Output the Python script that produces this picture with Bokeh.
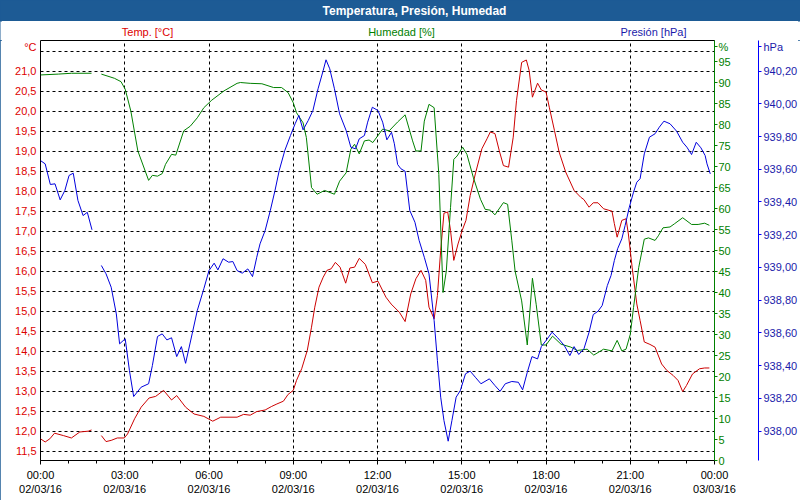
from bokeh.plotting import figure
from bokeh.layouts import column
from bokeh.models import Range1d, LinearAxis, FixedTicker
from bokeh.core.properties import value
from bokeh.embed import file_html
from bokeh.resources import INLINE

NaN = float("nan")

# ---- data (minutes after 00:00 on 02/03/16) ----
temp_min = [0, 10, 20, 30, 49, 66, 84, 102, 109, 120, 130, 140, 151, 164, 179, 186, 201, 215, 232, 246,
            263, 280, 291, 310, 328, 349, 368, 385, 420, 434, 448, 462, 480, 494, 505, 519, 529, 540,
            547, 558, 570, 579, 586, 595, 604, 612, 621, 630, 640, 652, 661, 671, 681, 694, 709, 721,
            738, 749, 767, 779, 791, 802, 813, 823, 830, 841, 848, 855, 862, 870, 876, 883, 892, 901,
            909, 918, 929, 943, 954, 961, 971, 980, 989, 1000, 1010, 1017, 1028, 1038, 1044, 1051,
            1062, 1070, 1080, 1087, 1098, 1108, 1122, 1140, 1154, 1161, 1172, 1181, 1191, 1203, 1221,
            1226, 1232, 1242, 1251, 1256, 1264, 1274, 1281, 1290, 1302, 1313, 1327, 1338, 1352, 1362,
            1372, 1380, 1393, 1408, 1419, 1429]
temp_val = [11.81, 11.73, 11.81, 11.95, 11.89, 11.83, 11.98, 12.00, 12.03, NaN, 11.89, 11.74, 11.77,
            11.83, 11.83, 11.93, 12.31, 12.60, 12.83, 12.87, 13.02, 12.78, 12.89, 12.60, 12.43, 12.37,
            12.25, 12.35, 12.35, 12.42, 12.40, 12.49, 12.53, 12.62, 12.68, 12.75, 12.92, 13.02, 13.27,
            13.56, 14.02, 14.60, 15.10, 15.60, 15.85, 16.02, 16.06, 16.22, 16.10, 15.70, 16.08, 16.10,
            16.32, 16.17, 15.71, 15.75, 15.35, 15.18, 14.97, 14.74, 15.43, 15.81, 16.02, 15.77, 15.10,
            14.81, 15.39, 16.52, 17.45, 17.48, 17.02, 16.27, 16.68, 17.02, 17.27, 17.89, 18.43, 19.06,
            19.31, 19.48, 19.44, 19.02, 18.64, 18.60, 19.35, 20.27, 21.22, 21.28, 21.02, 20.35, 20.70,
            20.53, 20.48, 20.10, 19.52, 18.98, 18.48, 18.02, 17.85, 17.79, 17.60, 17.71, 17.71, 17.56,
            17.50, 17.19, 16.85, 17.27, 17.31, 16.93, 16.10, 15.18, 14.77, 14.23, 14.17, 14.10, 13.68,
            13.52, 13.39, 13.27, 12.99, 13.14, 13.43, 13.56, 13.58, 13.58]

hum_min = [0, 38, 66, 109, 120, 130, 158, 172, 181, 193, 208, 231, 239, 250, 260, 267, 280, 289, 306,
           320, 335, 349, 366, 392, 420, 427, 448, 473, 498, 515, 529, 540, 547, 561, 568, 579, 591,
           607, 628, 639, 653, 663, 671, 681, 692, 702, 710, 731, 745, 763, 779, 795, 802, 813, 820,
           830, 841, 851, 860, 867, 876, 883, 890, 902, 911, 925, 940, 950, 961, 971, 989, 998, 1007,
           1014, 1028, 1040, 1051, 1059, 1070, 1080, 1094, 1112, 1133, 1147, 1168, 1182, 1203, 1221,
           1232, 1242, 1251, 1260, 1267, 1278, 1290, 1299, 1313, 1320, 1330, 1345, 1355, 1372, 1391,
           1405, 1419, 1429]
hum_val = [91.8, 92.0, 92.2, 92.2, NaN, 92.0, 91.0, 90.2, 88.4, 83.2, 73.7, 66.7, 67.9, 67.7, 68.3,
           70.5, 72.9, 72.7, 78.5, 79.6, 81.6, 84.0, 85.8, 88.0, 89.8, 90.0, 89.8, 89.7, 88.8, 88.8,
           87.6, 85.2, 82.8, 80.4, 76.9, 65.0, 63.4, 64.3, 63.4, 66.5, 68.5, 74.1, 75.3, 73.0, 76.1,
           76.3, 75.7, 78.9, 78.5, 80.6, 82.3, 76.1, 73.7, 73.7, 80.8, 84.8, 84.0, 68.1, 40.0, 45.1,
           60.2, 71.7, 72.5, 74.6, 72.9, 67.3, 62.2, 59.8, 59.6, 58.5, 61.4, 61.0, 52.3, 45.1, 38.0,
           27.5, 43.4, 37.2, 27.5, 27.5, 29.6, 27.7, 27.0, 26.2, 26.5, 25.1, 26.5, 26.1, 28.6, 26.1,
           26.5, 30.0, 36.4, 45.9, 52.7, 53.0, 52.4, 53.5, 55.4, 55.6, 56.4, 57.8, 56.2, 56.2, 56.5,
           56.0]

pres_min = [0, 10, 21, 31, 42, 52, 61, 70, 80, 91, 100, 110, 120, 130, 140, 151, 162, 169, 181, 190,
            199, 215, 231, 239, 250, 260, 270, 280, 291, 301, 310, 324, 335, 349, 360, 371, 379, 390,
            402, 411, 420, 431, 443, 453, 462, 469, 480, 491, 501, 510, 522, 534, 544, 552, 561, 572,
            582, 593, 604, 610, 618, 628, 639, 653, 663, 673, 681, 692, 699, 709, 721, 731, 740, 750,
            756, 763, 770, 779, 789, 800, 809, 820, 830, 841, 848, 855, 862, 871, 879, 888, 897, 908,
            918, 929, 941, 959, 971, 982, 993, 1007, 1021, 1030, 1040, 1050, 1062, 1070, 1080, 1093,
            1105, 1119, 1131, 1140, 1150, 1161, 1172, 1181, 1191, 1200, 1211, 1219, 1226, 1233, 1242,
            1249, 1258, 1267, 1274, 1281, 1290, 1301, 1313, 1322, 1332, 1345, 1359, 1372, 1381, 1391,
            1401, 1411, 1420, 1424, 1431]
pres_val = [939.653, 939.633, 939.507, 939.511, 939.413, 939.470, 939.562, 939.576, 939.409, 939.317,
            939.337, 939.230, NaN, 939.012, 938.961, 938.879, 938.716, 938.533, 938.564, 938.370,
            938.211, 938.268, 938.289, 938.400, 938.578, 938.594, 938.557, 938.570, 938.455, 938.516,
            938.414, 938.594, 938.737, 938.870, 938.981, 939.026, 938.985, 939.053, 939.032, 939.036,
            938.981, 938.965, 938.991, 938.944, 939.062, 939.144, 939.226, 939.348, 939.470, 939.592,
            939.715, 939.806, 939.878, 939.929, 939.841, 939.898, 939.959, 940.092, 940.204, 940.269,
            940.214, 940.092, 939.939, 939.837, 939.735, 939.725, 939.786, 939.806, 939.888, 939.979,
            939.959, 939.888, 939.780, 939.826, 939.756, 939.629, 939.603, 939.588, 939.348, 939.276,
            939.164, 939.062, 938.961, 938.675, 938.431, 938.207, 938.064, 937.938, 938.064, 938.207,
            938.248, 938.350, 938.366, 938.329, 938.289, 938.319, 938.278, 938.243, 938.289, 938.303,
            938.298, 938.252, 938.359, 938.455, 938.441, 938.516, 938.553, 938.604, 938.570, 938.523,
            938.461, 938.516, 938.468, 938.502, 938.604, 938.712, 938.732, 938.767, 938.889, 938.951,
            939.042, 939.114, 939.175, 939.256, 939.368, 939.460, 939.521, 939.542, 939.694, 939.796,
            939.817, 939.857, 939.894, 939.878, 939.833, 939.765, 939.735, 939.690, 939.765, 939.731,
            939.684, 939.633, 939.572]

x_ticks = [0, 180, 360, 540, 720, 900, 1080, 1260, 1440]
x_tick_labels = ["00:00\n02/03/16", "03:00\n02/03/16", "06:00\n02/03/16", "09:00\n02/03/16",
                 "12:00\n02/03/16", "15:00\n02/03/16", "18:00\n02/03/16", "21:00\n02/03/16",
                 "00:00\n03/03/16"]
temp_ticks = [11.5, 12.0, 12.5, 13.0, 13.5, 14.0, 14.5, 15.0, 15.5, 16.0, 16.5, 17.0, 17.5, 18.0,
              18.5, 19.0, 19.5, 20.0, 20.5, 21.0]
temp_tick_labels = ["11,5", "12,0", "12,5", "13,0", "13,5", "14,0", "14,5", "15,0", "15,5", "16,0",
                    "16,5", "17,0", "17,5", "18,0", "18,5", "19,0", "19,5", "20,0", "20,5", "21,0"]
grid_temp_ticks = temp_ticks + [21.5]
hum_ticks = [0, 5, 10, 15, 20, 25, 30, 35, 40, 45, 50, 55, 60, 65, 70, 75, 80, 85, 90, 95]
pres_ticks = [938.0, 938.2, 938.4, 938.6, 938.8, 939.0, 939.2, 939.4, 939.6, 939.8, 940.0, 940.2]
pres_tick_labels = ["938,00", "938,20", "938,40", "938,60", "938,80", "939,00", "939,20", "939,40",
                    "939,60", "939,80", "940,00", "940,20"]

title_text = "Temperatura, Presión, Humedad"
series_names = ["Temp. [°C]", "Humedad [%]", "Presión [hPa]"]
unit_names = ["°C", "%", "hPa"]
# axis values at which the unit names sit (top of each axis)
unit_at = [21.62, 98.5, 940.35]

# ---- styles ----
FONT = "Liberation Sans"
BAR = "#1d5b95"
RED_LINE = "#cc0000"
RED_TEXT = "#dd0000"
GREEN = "#008000"
BLUE_LINE = "#0000dd"
BLUE_TEXT = "#1a1aaa"


def strip_figure(h, fill):
    f = figure(width=800, height=h, output_backend="svg", toolbar_location=None,
               x_range=Range1d(0, 800), y_range=Range1d(h, 0),
               x_axis_location=None, y_axis_location=None,
               min_border=0, min_border_left=0, min_border_right=0,
               min_border_top=0, min_border_bottom=0,
               background_fill_color=fill, border_fill_color=fill,
               outline_line_color=None)
    if "frame_align" in f.properties():
        f.frame_align = False
    f.xgrid.visible = False
    f.ygrid.visible = False
    return f


# ---------------- title bar ----------------
bar = strip_figure(21, BAR)
bar.text(x=[414], y=[10.5], text=[title_text], text_color="white",
         text_font=value(FONT), text_font_style="bold", text_font_size="12px",
         text_align="center", text_baseline="middle")

# ---------------- series names row ----------------
names = strip_figure(19, "white")
names.text(x=[147, 401, 653], y=[10, 10, 10], text=series_names,
           text_color=[RED_TEXT, GREEN, BLUE_TEXT],
           text_font=value(FONT), text_font_size="11px",
           text_align="center", text_baseline="middle")

# ---------------- main chart ----------------
p = figure(width=800, height=460, output_backend="svg", toolbar_location=None,
           x_range=Range1d(0, 1440), y_range=Range1d(11.267, 21.767),
           min_border_left=40, min_border_right=80, min_border_top=0, min_border_bottom=40,
           background_fill_color="white", border_fill_color="white",
           outline_line_color="black", outline_line_width=1)
if "frame_align" in p.properties():
    p.frame_align = False
p.extra_y_ranges = {"hum": Range1d(0, 100), "pres": Range1d(937.82, 940.387)}

# grids
p.xgrid.ticker = FixedTicker(ticks=x_ticks[1:-1])
p.ygrid.ticker = FixedTicker(ticks=grid_temp_ticks)
for g in (p.xgrid, p.ygrid):
    g.grid_line_color = "black"
    g.grid_line_dash = "3 3"
    g.grid_line_width = 1

# x axis
xa = p.xaxis[0]
xa.ticker = FixedTicker(ticks=x_ticks, minor_ticks=list(range(0, 1441, 60)))
xa.major_label_overrides = {t: l for t, l in zip(x_ticks, x_tick_labels)}
xa.axis_line_color = "black"
xa.major_tick_in = 0
xa.major_tick_out = 4
xa.minor_tick_in = 0
xa.minor_tick_out = 3
xa.major_label_standoff = 4
xa.major_label_text_font = FONT
xa.major_label_text_font_size = "11px"
xa.major_label_text_color = "black"

# left temperature axis (unit name shown as top label)
ya = p.yaxis[0]
ya.ticker = FixedTicker(ticks=temp_ticks + [unit_at[0]])
ya.major_label_overrides = dict(list(zip(temp_ticks, temp_tick_labels)) + [(unit_at[0], unit_names[0])])
ya.axis_line_color = None
ya.major_tick_line_color = None
ya.minor_tick_line_color = None
ya.major_tick_in = 0
ya.major_tick_out = 0
ya.major_label_standoff = 4
ya.major_label_text_font = FONT
ya.major_label_text_font_size = "11px"
ya.major_label_text_color = RED_TEXT

# right humidity axis
ha = LinearAxis(y_range_name="hum", ticker=FixedTicker(ticks=hum_ticks + [unit_at[1]]))
ha.major_label_overrides = {unit_at[1]: unit_names[1]}
ha.axis_line_color = GREEN
ha.major_tick_line_color = GREEN
ha.minor_tick_line_color = None
ha.major_tick_in = 0
ha.major_tick_out = 3
ha.major_label_standoff = 1
ha.major_label_text_font = FONT
ha.major_label_text_font_size = "11px"
ha.major_label_text_color = GREEN
ha.axis_label = " "
ha.axis_label_standoff = 10
ha.axis_label_text_font_size = "11px"
p.add_layout(ha, "right")

# right pressure axis
pa = LinearAxis(y_range_name="pres", ticker=FixedTicker(ticks=pres_ticks + [unit_at[2]]))
pa.major_label_overrides = dict(list(zip(pres_ticks, pres_tick_labels)) + [(unit_at[2], unit_names[2])])
pa.axis_line_color = "#0000ff"
pa.major_tick_line_color = "#0000ff"
pa.minor_tick_line_color = None
pa.major_tick_in = 0
pa.major_tick_out = 3
pa.major_label_standoff = 2
pa.major_label_text_font = FONT
pa.major_label_text_font_size = "11px"
pa.major_label_text_color = BLUE_TEXT
p.add_layout(pa, "right")

# series
p.line(temp_min, temp_val, line_color=RED_LINE, line_width=1)
p.line(hum_min, hum_val, line_color=GREEN, line_width=1, y_range_name="hum")
p.line(pres_min, pres_val, line_color=BLUE_LINE, line_width=1, y_range_name="pres")

page = column(bar, names, p, spacing=0,
              styles={"outline": "2px solid " + BAR, "outline-offset": "-2px"})

open("out.html", "w").write(file_html(page, INLINE))
